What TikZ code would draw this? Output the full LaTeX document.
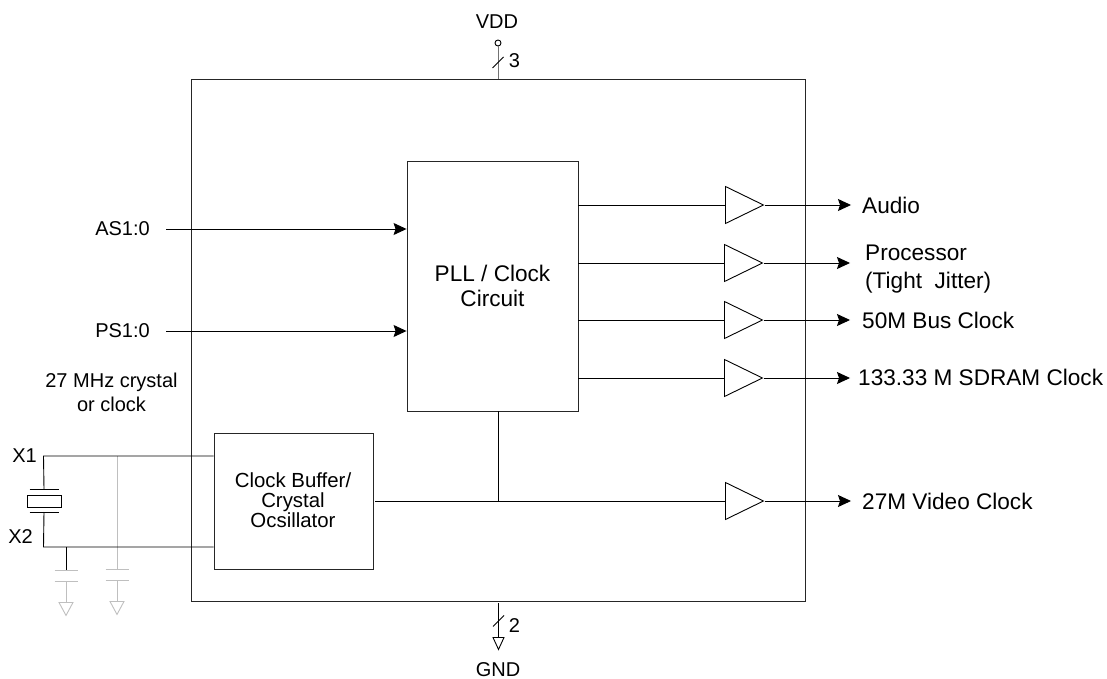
\documentclass[tikz,border=0pt]{standalone}
\usepackage{fontspec}
\setmainfont{Liberation Sans}
\usetikzlibrary{calc, shapes.geometric, arrows.meta}

\begin{document}
\begin{tikzpicture}[x=1pt, y=-1pt]

    \tikzstyle{block}=[draw=black!85, line width=0.9pt, inner sep=0pt];
    \tikzstyle{label}=[font=\fontsize{20}{20}\selectfont, inner sep=0pt];
    \tikzstyle{output}=[font=\fontsize{22.6}{28}\selectfont, inner sep=0pt, anchor=west];
    \tikzstyle{buffer}=[draw=black, line width=0.9pt, isosceles triangle, isosceles triangle stretches, minimum width=37pt, minimum height=38pt, inner sep=0pt, anchor=west];
    \tikzstyle{ground}=[isosceles triangle, isosceles triangle stretches, shape border rotate=-90, minimum width=14pt, minimum height=13pt, inner sep=0pt, anchor=north, line width=0.9pt];
    \tikzstyle{wire}=[line width=0.9pt];
    \tikzstyle{signal}=[line width=0.9pt, -{Stealth[length=13pt, width=12pt, inset=2pt]}];
    \tikzstyle{faint}=[line width=0.9pt, draw=black!25];

    \useasboundingbox (0,0) rectangle (1107,679);

    \node[block, minimum width=614pt, minimum height=522pt] (chip) at (498, 340) {};
    \node[block, minimum width=171pt, minimum height=250pt, align=center, font=\fontsize{22.6}{25}\selectfont] (pll) at (492.5, 286) {PLL / Clock\\Circuit};
    \node[block, minimum width=159pt, minimum height=136pt] (osc) at (293.5, 501) {};
    \node[label, align=center, font=\fontsize{20.4}{20}\selectfont] (osctext) at (293, 500) {Clock Buffer/\\Crystal\\Ocsillator};

    \node[buffer] (audiobuf) at (725, 205) {};
    \node[buffer] (procbuf) at (724, 263) {};
    \node[buffer] (busbuf) at (724, 320) {};
    \node[buffer] (sdrambuf) at (724, 378) {};
    \node[buffer] (videobuf) at (725, 501) {};

    \node[output] (audio) at (862, 205) {Audio};
    \node[output, align=left] (proc) at (865, 269.5) {Processor\\(Tight\ \ Jitter)};
    \node[output] (bus) at (862, 320) {50M Bus Clock};
    \node[output] (sdram) at (858, 377) {133.33 M SDRAM Clock};
    \node[output] (video) at (862, 501) {27M Video Clock};

    \node[label, anchor=east] (as) at (150, 229) {AS1:0};
    \node[label, anchor=east] (ps) at (150, 331) {PS1:0};
    \node[label, align=center, font=\fontsize{20}{24}\selectfont] (freq) at (111.5, 392) {27 MHz crystal\\or clock};
    \node[label, anchor=east] (xone) at (37, 456) {X1};
    \node[label, anchor=east] (xtwo) at (33, 537) {X2};

    \node[label] (vdd) at (497, 22) {VDD};
    \node[label] (three) at (514.5, 61) {3};
    \node[label] (two) at (514.5, 626) {2};
    \node[label] (gnd) at (498, 670) {GND};

    \node[circle, draw=black, line width=0.9pt, minimum size=6pt, inner sep=0pt] (pin) at (498, 43) {};
    \node[ground, draw=black, minimum width=11pt, minimum height=12pt] (gndsym) at (498.5, 637) {};

    \node[draw=black, line width=0.9pt, minimum width=34pt, minimum height=12pt, inner sep=0pt] (xtal) at (44, 501) {};

    \coordinate (plate1) at ($(xtal)+(0,-12)$);
    \coordinate (plate2) at ($(xtal)+(0,11)$);
    \coordinate (cornerX1) at (43.5, 456);
    \coordinate (cornerX2) at (43.5, 547);
    \coordinate (tapA) at (66, 547);
    \coordinate (tapB) at (117, 456);
    \coordinate (capA) at (66, 570);
    \coordinate (capB) at (117, 569);
    \coordinate (join) at (498, 501);

    \node[ground, draw=black!25] (gndA) at (66, 602) {};
    \node[ground, draw=black!25] (gndB) at (117, 601) {};

    % power and ground pins
    \draw[wire, draw=black!55] (pin) -- (pin |- chip.north);
    \draw[wire] ($(498, 62.5)+(-5.5,5.5)$) -- ($(498, 62.5)+(5.5,-5.5)$);
    \draw[wire] (gndsym.north) -- (498.5, 603);
    \draw[wire] ($(498.5, 621)+(-5.5,5.5)$) -- ($(498.5, 621)+(5.5,-5.5)$);

    % inputs
    \draw[signal] (166, 229) -- (pll.west |- as);
    \draw[signal] (166, 331) -- (pll.west |- ps);

    % outputs
    \draw[wire] (pll.east |- audiobuf.west) -- (audiobuf.west);
    \draw[wire] (pll.east |- procbuf.west) -- (procbuf.west);
    \draw[wire] (pll.east |- busbuf.west) -- (busbuf.west);
    \draw[wire] (pll.east |- sdrambuf.west) -- (sdrambuf.west);

    \draw[signal] (audiobuf.east) -- (851, 205);
    \draw[signal] (procbuf.east) -- (850, 263);
    \draw[signal] (busbuf.east) -- (850, 320);
    \draw[signal] (sdrambuf.east) -- (850, 378);
    \draw[signal] (videobuf.east) -- (851, 501);

    \draw[wire] (375, 501) -- (videobuf.west);
    \draw[wire] (pll.south -| join) -- (join);

    % faint load capacitors
    \draw[faint] (tapB) -- (capB);
    \draw[faint] ($(capB)+(-11.5,0)$) -- ($(capB)+(11.5,0)$);
    \draw[faint] ($(capB)+(-11.5,11)$) -- ($(capB)+(11.5,11)$);
    \draw[faint] ($(capB)+(0,11)$) -- (gndB.north);
    \draw[wire] (tapA) -- (capA);
    \draw[faint] ($(capA)+(-11.5,0)$) -- ($(capA)+(11.5,0)$);
    \draw[faint] ($(capA)+(-11.5,11)$) -- ($(capA)+(11.5,11)$);
    \draw[faint] ($(capA)+(0,11)$) -- (gndA.north);

    % crystal
    \draw[wire] (plate1) -- (cornerX1) -- (osc.west |- cornerX1);
    \draw[wire] (plate2) -- (cornerX2) -- (osc.west |- cornerX2);
    \draw[wire] ($(plate1)+(-14.5,0)$) -- ($(plate1)+(14.5,0)$);
    \draw[wire] ($(plate2)+(-14.5,0)$) -- ($(plate2)+(14.5,0)$);

\end{tikzpicture}
\end{document}
